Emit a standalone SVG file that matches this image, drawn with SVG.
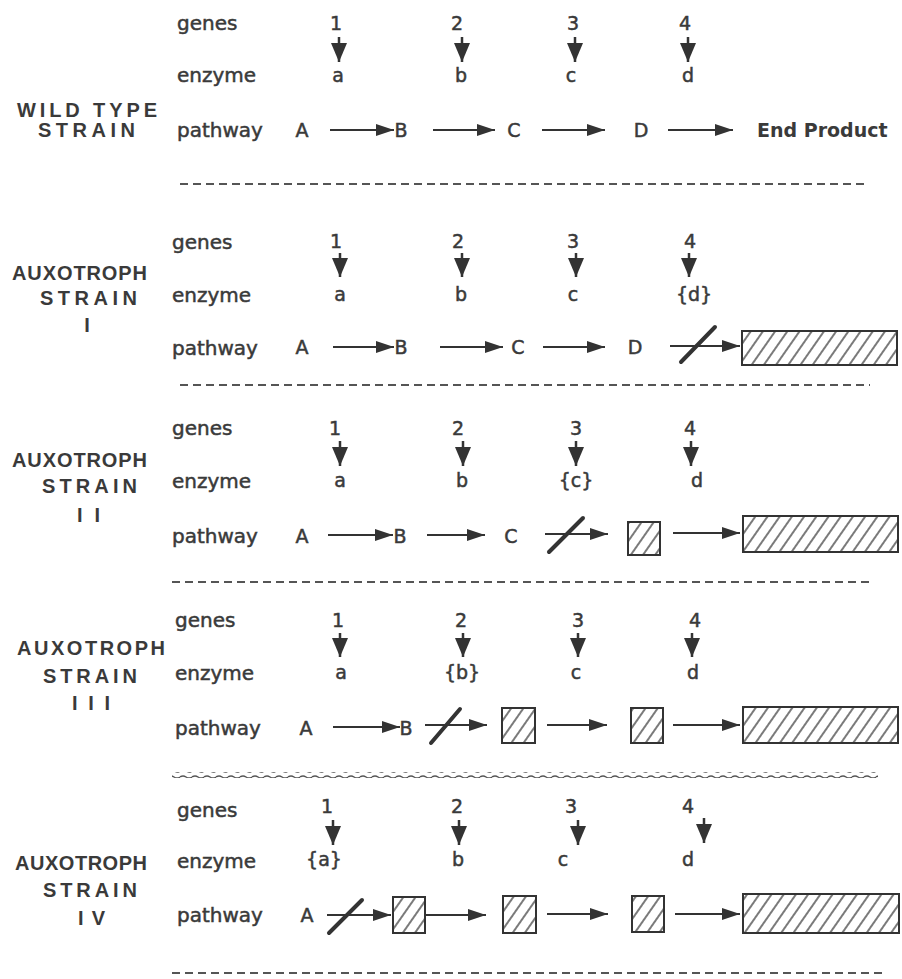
<svg xmlns="http://www.w3.org/2000/svg" width="902" height="979" viewBox="0 0 902 979">
<style>
.lbl{font-family:"DejaVu Sans",sans-serif;font-size:20px;fill:#3a3a3a;stroke:#3a3a3a;stroke-width:0.5}
.g{font-family:"DejaVu Sans",sans-serif;font-size:19px;fill:#3a3a3a;stroke:#3a3a3a;stroke-width:0.5;text-anchor:middle}
.st{font-family:"Liberation Sans",sans-serif;font-weight:bold;font-size:20px;fill:#3a3a3a}
.ep{font-family:"DejaVu Sans",sans-serif;font-weight:bold;font-size:19px;fill:#3a3a3a}
.ar{stroke:#333;stroke-width:2;fill:none;marker-end:url(#ah)}
.ga{stroke:#333;stroke-width:2.5;fill:none;marker-end:url(#gh)}
.sl{stroke:#333;stroke-width:4;stroke-linecap:round}
.box{fill:url(#hatch);stroke:#333;stroke-width:2}
.dash{stroke:#555;stroke-width:2;stroke-dasharray:8 5;fill:none}
</style>
<defs>
<marker id="ah" markerWidth="18" markerHeight="12" refX="18" refY="6" orient="auto" markerUnits="userSpaceOnUse"><path d="M0,0 L18,6 L0,12 z" fill="#333"/></marker>
<marker id="gh" markerWidth="19" markerHeight="16" refX="19" refY="8" orient="auto" markerUnits="userSpaceOnUse"><path d="M0,0 L19,8 L0,16 z" fill="#333"/></marker>
<pattern id="hatch" width="10" height="10" patternUnits="userSpaceOnUse" patternTransform="rotate(35)"><rect width="10" height="10" fill="#fff"/><line x1="5" y1="0" x2="5" y2="10" stroke="#333" stroke-width="1.3"/></pattern>
<pattern id="wave" width="12" height="6" patternUnits="userSpaceOnUse"><path d="M0,3 Q3,1 6,3 T12,3" stroke="#555" stroke-width="1.5" fill="none"/></pattern>
</defs>
<rect width="902" height="979" fill="#fff"/>

<!-- WILD TYPE -->
<g id="wt-title"><text class="st" x="17" y="117" textLength="140" lengthAdjust="spacing">WILD TYPE</text><text class="st" x="38" y="137" textLength="97" lengthAdjust="spacing">STRAIN</text></g>
<g id="wt-genes"><text class="lbl" x="177" y="30">genes</text></g>
<g id="wt-enzyme"><text class="lbl" x="177" y="82">enzyme</text></g>
<g id="wt-pathway"><text class="lbl" x="177" y="137">pathway</text></g>
<g id="wt-g1"><text class="g" x="336" y="30">1</text></g>
<g id="wt-g2"><text class="g" x="457" y="30">2</text></g>
<g id="wt-g3"><text class="g" x="573" y="30">3</text></g>
<g id="wt-g4"><text class="g" x="685" y="30">4</text></g>
<g id="wt-ea"><text class="g" x="338" y="82">a</text></g>
<g id="wt-eb"><text class="g" x="461" y="82">b</text></g>
<g id="wt-ec"><text class="g" x="571" y="82">c</text></g>
<g id="wt-ed"><text class="g" x="688" y="82">d</text></g>
<g id="wt-A"><text class="g" x="302" y="137">A</text></g>
<g id="wt-B"><text class="g" x="401" y="137">B</text></g>
<g id="wt-C"><text class="g" x="514" y="137">C</text></g>
<g id="wt-D"><text class="g" x="641" y="137">D</text></g>
<g id="wt-end"><text class="ep" x="757" y="137">End Product</text></g>

<!-- AUXOTROPH I -->
<g id="a1-title"><text class="st" x="12" y="280" textLength="135" lengthAdjust="spacing">AUXOTROPH</text><text class="st" x="40" y="305" textLength="97" lengthAdjust="spacing">STRAIN</text><text class="st" x="87" y="332" text-anchor="middle">I</text></g>
<g id="a1-genes"><text class="lbl" x="172" y="249">genes</text></g>
<g id="a1-enzyme"><text class="lbl" x="172" y="302">enzyme</text></g>
<g id="a1-pathway"><text class="lbl" x="172" y="355">pathway</text></g>
<g id="a1-g1"><text class="g" x="336" y="248">1</text></g>
<g id="a1-g2"><text class="g" x="458" y="248">2</text></g>
<g id="a1-g3"><text class="g" x="573" y="248">3</text></g>
<g id="a1-g4"><text class="g" x="690" y="248">4</text></g>
<g id="a1-ea"><text class="g" x="340" y="301">a</text></g>
<g id="a1-eb"><text class="g" x="461" y="301">b</text></g>
<g id="a1-ec"><text class="g" x="573" y="301">c</text></g>
<g id="a1-ed"><text class="g" x="694" y="301">{d}</text></g>
<g id="a1-A"><text class="g" x="302" y="354">A</text></g>
<g id="a1-B"><text class="g" x="401" y="354">B</text></g>
<g id="a1-C"><text class="g" x="518" y="354">C</text></g>
<g id="a1-D"><text class="g" x="635" y="354">D</text></g>
<g id="a1-end"><rect class="box" x="742" y="331" width="155" height="34"/></g>

<!-- AUXOTROPH II -->
<g id="a2-title"><text class="st" x="12" y="467" textLength="135" lengthAdjust="spacing">AUXOTROPH</text><text class="st" x="42" y="493" textLength="95" lengthAdjust="spacing">STRAIN</text><text class="st" x="77" y="522" textLength="23" lengthAdjust="spacing">I I</text></g>
<g id="a2-genes"><text class="lbl" x="172" y="435">genes</text></g>
<g id="a2-enzyme"><text class="lbl" x="172" y="488">enzyme</text></g>
<g id="a2-pathway"><text class="lbl" x="172" y="543">pathway</text></g>
<g id="a2-g1"><text class="g" x="335" y="435">1</text></g>
<g id="a2-g2"><text class="g" x="458" y="435">2</text></g>
<g id="a2-g3"><text class="g" x="576" y="435">3</text></g>
<g id="a2-g4"><text class="g" x="690" y="435">4</text></g>
<g id="a2-ea"><text class="g" x="340" y="487">a</text></g>
<g id="a2-eb"><text class="g" x="462" y="487">b</text></g>
<g id="a2-ec"><text class="g" x="576" y="487">{c}</text></g>
<g id="a2-ed"><text class="g" x="697" y="487">d</text></g>
<g id="a2-A"><text class="g" x="302" y="543">A</text></g>
<g id="a2-B"><text class="g" x="400" y="543">B</text></g>
<g id="a2-C"><text class="g" x="511" y="543">C</text></g>
<g id="a2-D"><rect class="box" x="628" y="522" width="32" height="33"/></g>
<g id="a2-end"><rect class="box" x="743" y="516" width="155" height="36"/></g>

<!-- AUXOTROPH III -->
<g id="a3-title"><text class="st" x="17" y="655" textLength="148" lengthAdjust="spacing">AUXOTROPH</text><text class="st" x="43" y="683" textLength="94" lengthAdjust="spacing">STRAIN</text><text class="st" x="72" y="710" textLength="38" lengthAdjust="spacing">I I I</text></g>
<g id="a3-genes"><text class="lbl" x="175" y="627">genes</text></g>
<g id="a3-enzyme"><text class="lbl" x="175" y="680">enzyme</text></g>
<g id="a3-pathway"><text class="lbl" x="175" y="735">pathway</text></g>
<g id="a3-g1"><text class="g" x="338" y="627">1</text></g>
<g id="a3-g2"><text class="g" x="461" y="627">2</text></g>
<g id="a3-g3"><text class="g" x="578" y="627">3</text></g>
<g id="a3-g4"><text class="g" x="695" y="627">4</text></g>
<g id="a3-ea"><text class="g" x="341" y="679">a</text></g>
<g id="a3-eb"><text class="g" x="462" y="679">{b}</text></g>
<g id="a3-ec"><text class="g" x="576" y="679">c</text></g>
<g id="a3-ed"><text class="g" x="693" y="679">d</text></g>
<g id="a3-A"><text class="g" x="306" y="735">A</text></g>
<g id="a3-B"><text class="g" x="406" y="735">B</text></g>
<g id="a3-C"><rect class="box" x="502" y="708" width="33" height="35"/></g>
<g id="a3-D"><rect class="box" x="631" y="708" width="32" height="35"/></g>
<g id="a3-end"><rect class="box" x="743" y="707" width="155" height="36"/></g>

<!-- AUXOTROPH IV -->
<g id="a4-title"><text class="st" x="15" y="870" textLength="132" lengthAdjust="spacing">AUXOTROPH</text><text class="st" x="43" y="897" textLength="94" lengthAdjust="spacing">STRAIN</text><text class="st" x="78" y="925" textLength="27" lengthAdjust="spacing">I V</text></g>
<g id="a4-genes"><text class="lbl" x="177" y="817">genes</text></g>
<g id="a4-enzyme"><text class="lbl" x="177" y="868">enzyme</text></g>
<g id="a4-pathway"><text class="lbl" x="177" y="922">pathway</text></g>
<g id="a4-g1"><text class="g" x="327" y="813">1</text></g>
<g id="a4-g2"><text class="g" x="457" y="813">2</text></g>
<g id="a4-g3"><text class="g" x="571" y="813">3</text></g>
<g id="a4-g4"><text class="g" x="688" y="813">4</text></g>
<g id="a4-ea"><text class="g" x="324" y="866">{a}</text></g>
<g id="a4-eb"><text class="g" x="458" y="866">b</text></g>
<g id="a4-ec"><text class="g" x="563" y="866">c</text></g>
<g id="a4-ed"><text class="g" x="688" y="866">d</text></g>
<g id="a4-A"><text class="g" x="307" y="922">A</text></g>
<g id="a4-B"><rect class="box" x="393" y="897" width="32" height="36"/></g>
<g id="a4-C"><rect class="box" x="503" y="896" width="33" height="37"/></g>
<g id="a4-D"><rect class="box" x="632" y="896" width="32" height="36"/></g>
<g id="a4-end"><rect class="box" x="743" y="894" width="156" height="39"/></g>

<!-- separators -->
<g id="separators">
<line class="dash" x1="180" y1="184" x2="868" y2="184"/>
<line class="dash" x1="180" y1="385" x2="870" y2="385"/>
<line class="dash" x1="172" y1="582" x2="873" y2="582"/>
<rect x="172" y="772" width="706" height="6" fill="url(#wave)"/>
<line class="dash" x1="172" y1="973" x2="885" y2="973"/>
</g>

<g id="connectors">
<path class="ga" d="M339,37 V62"/><path class="ga" d="M462,37 V62"/><path class="ga" d="M575,37 V62"/><path class="ga" d="M688,37 V62"/>
<path class="ar" d="M330,130 H394"/><path class="ar" d="M433,130 H495"/><path class="ar" d="M542,130 H605"/><path class="ar" d="M668,130 H733"/>
<path class="ga" d="M340,253 V277"/><path class="ga" d="M462,253 V277"/><path class="ga" d="M576,253 V277"/><path class="ga" d="M689,253 V277"/>
<path class="ar" d="M333,347 H394"/><path class="ar" d="M440,347 H503"/><path class="ar" d="M543,347 H605"/><path class="ar" d="M670,346 H740"/>
<line class="sl" x1="681" y1="362" x2="715" y2="327"/>
<path class="ga" d="M340,441 V466"/><path class="ga" d="M463,441 V466"/><path class="ga" d="M576,441 V466"/><path class="ga" d="M691,441 V466"/>
<path class="ar" d="M328,535 H393"/><path class="ar" d="M427,535 H485"/><path class="ar" d="M545,534 H608"/><path class="ar" d="M673,533 H740"/>
<line class="sl" x1="549" y1="552" x2="583" y2="518"/>
<path class="ga" d="M340,633 V657"/><path class="ga" d="M463,633 V657"/><path class="ga" d="M578,633 V657"/><path class="ga" d="M692,633 V657"/>
<path class="ar" d="M333,727 H400"/><path class="ar" d="M425,725 H487"/><path class="ar" d="M547,725 H607"/><path class="ar" d="M673,725 H740"/>
<line class="sl" x1="431" y1="743" x2="460" y2="709"/>
<path class="ga" d="M333,820 V845"/><path class="ga" d="M459,820 V845"/><path class="ga" d="M578,820 V845"/><path class="ga" d="M704,818 V843"/>
<path class="ar" d="M327,915 H391"/><path class="ar" d="M425,915 H486"/><path class="ar" d="M547,914 H608"/><path class="ar" d="M675,914 H740"/>
<line class="sl" x1="329" y1="933" x2="362" y2="900"/>
</g>
</svg>
